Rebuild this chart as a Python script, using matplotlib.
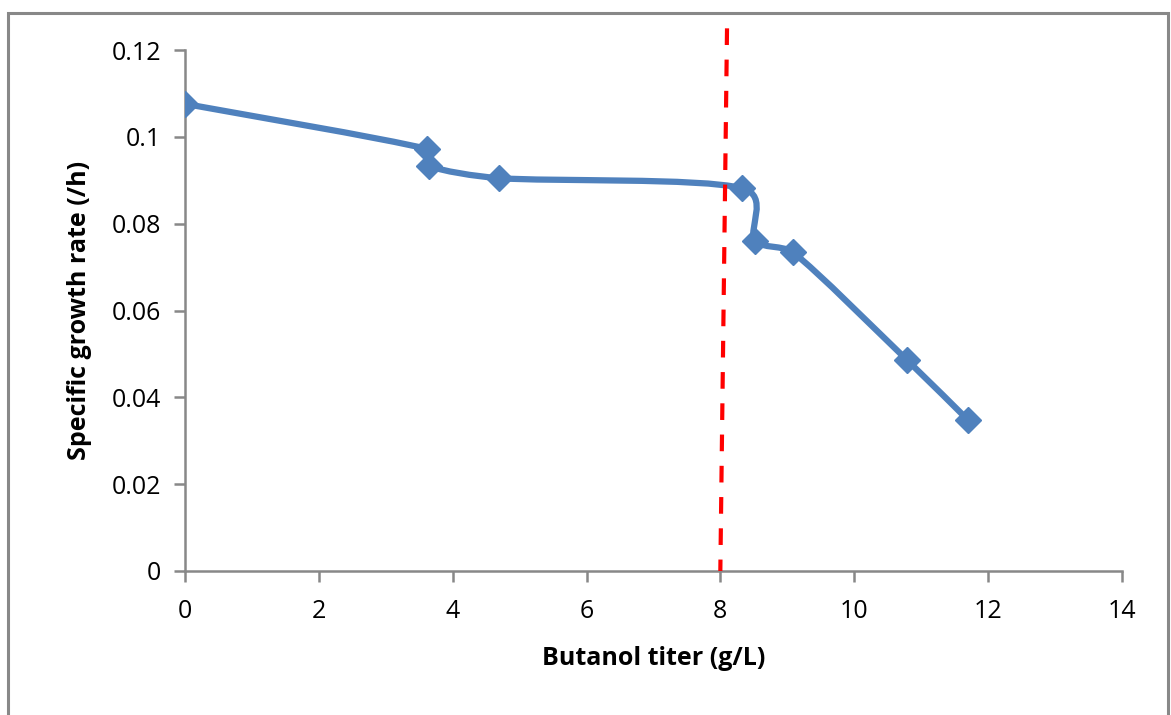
import numpy as np
import matplotlib.pyplot as plt
from matplotlib.path import Path
from matplotlib.patches import PathPatch, Rectangle

# butanol titer (g/L) vs specific growth rate (/h)
titer = [0.0, 3.62, 3.65, 4.69, 8.32, 8.52, 9.08, 10.79, 11.70]
growth = [0.1076, 0.0972, 0.0933, 0.0905, 0.0882, 0.0760, 0.0735, 0.0486, 0.0348]

# dashed threshold marker (drawn slightly slanted in the original)
thr_x = [8.10, 8.00]
thr_y = [0.125, 0.0]

blue = '#4F81BD'

plt.rcParams['font.family'] = ['Open Sans', 'DejaVu Sans']

fig = plt.figure(figsize=(11.71, 7.15), dpi=100)
ax = fig.add_axes([0.158, 0.2014, 0.800, 0.7286])

# excel-like smoothed line, bezier segments built in axis-normalised units
sx, sy = 14.0, 0.12
x = np.array(titer) / sx
y = np.array(growth) / sy
n = len(x)
P = np.column_stack([x, y])
verts = [tuple(P[0])]
codes = [Path.MOVETO]
for i in range(n - 1):
    p0, p1, p2, p3 = P[max(i - 1, 0)], P[i], P[i + 1], P[min(i + 2, n - 1)]
    seg = np.linalg.norm(p2 - p1)
    d1 = (p2 - p0) / 6.0
    d2 = (p3 - p1) / 6.0
    for d in (d1, d2):
        L = np.linalg.norm(d)
        if L > seg / 3.0:
            d *= (seg / 3.0) / L
    c1 = p1 + d1
    c2 = p2 - d2
    verts += [tuple(c1), tuple(c2), tuple(p2)]
    codes += [Path.CURVE4] * 3
verts = [(vx * sx, vy * sy) for vx, vy in verts]
ax.add_patch(PathPatch(Path(verts, codes), facecolor='none', edgecolor=blue,
                       lw=4.5, capstyle='round', joinstyle='round', zorder=3))
ax.plot(titer, growth, linestyle='none', marker='D', markersize=13,
        color=blue, zorder=4)

ax.plot(thr_x, thr_y, color='#FF0000', lw=3, dashes=(4, 3.5), zorder=5,
        clip_on=False)

ax.set_xlim(0, 14)
ax.set_ylim(0, 0.12)
ax.set_xticks(range(0, 15, 2))
ax.set_yticks([0, 0.02, 0.04, 0.06, 0.08, 0.1, 0.12])
ax.set_yticklabels(['0', '0.02', '0.04', '0.06', '0.08', '0.1', '0.12'])

for s in ['top', 'right']:
    ax.spines[s].set_visible(False)
for s in ['left', 'bottom']:
    ax.spines[s].set_color('#888888')
    ax.spines[s].set_linewidth(1.8)
ax.tick_params(axis='both', direction='out', length=8, width=1.8,
               color='#888888', labelsize=18)
ax.tick_params(axis='x', pad=12)
ax.tick_params(axis='y', pad=9)

ax.set_xlabel('Butanol titer (g/L)', fontsize=18, fontweight='bold', labelpad=16)
ax.set_ylabel('Specific growth rate (/h)', fontsize=18, fontweight='bold', labelpad=14)

# chart frame
fig.patches.append(Rectangle((8 / 1171, -0.05), (1168 - 8) / 1171, (715 - 13) / 715 + 0.05,
                             transform=fig.transFigure, fill=False,
                             edgecolor='#888888', lw=2.2))

fig.savefig('out.png', dpi=100)
